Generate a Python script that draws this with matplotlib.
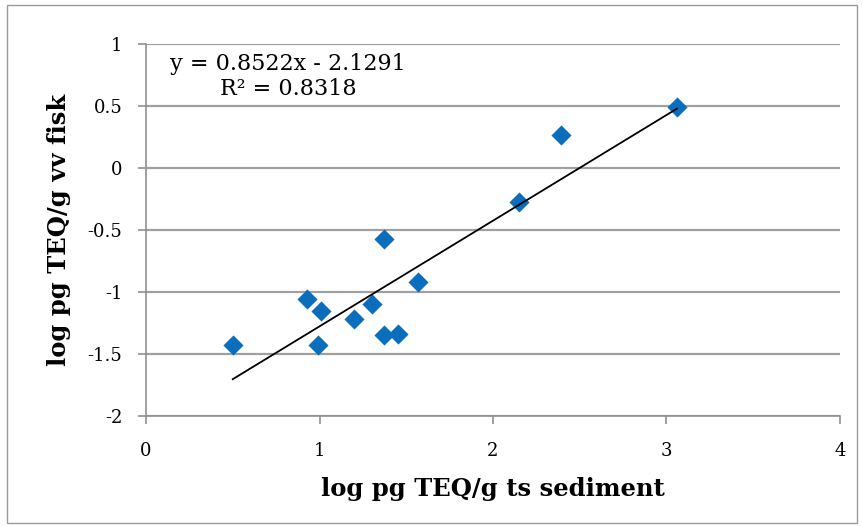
import matplotlib
matplotlib.use("Agg")
import matplotlib.pyplot as plt
import numpy as np
from matplotlib.patches import Rectangle

# log pg TEQ/g sediment vs fish
sediment = [0.50, 0.93, 1.01, 0.99, 1.20, 1.30, 1.37, 1.37, 1.45, 1.57, 2.15, 2.39, 3.06]
fisk = [-1.43, -1.06, -1.15, -1.43, -1.22, -1.10, -0.57, -1.35, -1.34, -0.92, -0.27, 0.27, 0.49]

slope = 0.8522
intercept = -2.1291
r2 = 0.8318

x_ticks = [0, 1, 2, 3, 4]
y_ticks = [-2, -1.5, -1, -0.5, 0, 0.5, 1]
y_ticklabels = ["-2", "-1.5", "-1", "-0.5", "0", "0.5", "1"]

plt.rcParams['font.family'] = ['DejaVu Serif']
fig = plt.figure(figsize=(8.63, 5.26), dpi=100)
fig.patches.append(Rectangle((0.008, 0.006), 0.985, 0.985, transform=fig.transFigure,
                             fill=False, edgecolor='#9a9a9a', linewidth=1))

ax = fig.add_axes([0.1692, 0.2091, 0.8041, 0.7072])
ax.set_xlim(0, 4)
ax.set_ylim(-2, 1)

for y in y_ticks:
    ax.axhline(y, color='#a0a0a0', linewidth=1.6, zorder=1)

ax.scatter(sediment, fisk, marker='D', s=105, color='#0a6ebd', linewidths=0, zorder=3)

xs = np.array([min(sediment), max(sediment)])
ax.plot(xs, slope * xs + intercept, color='black', linewidth=1.3, zorder=4)

for side in ['top', 'right']:
    ax.spines[side].set_visible(False)
for side in ['left', 'bottom']:
    ax.spines[side].set_color('#909090')
    ax.spines[side].set_linewidth(1.2)

ax.set_xticks(x_ticks)
ax.set_yticks(y_ticks)
ax.set_yticklabels(y_ticklabels)
ax.tick_params(axis='both', colors='#909090', labelcolor='black', labelsize=13,
               length=6, width=1.2)
ax.tick_params(axis='x', direction='out', pad=13)
ax.tick_params(axis='y', direction='out', pad=11)

ax.set_xlabel('log pg TEQ/g ts sediment', fontsize=17.5, fontweight='bold', labelpad=12)
ax.set_ylabel('log pg TEQ/g vv fisk', fontsize=17.5, fontweight='bold', labelpad=12)

ax.text(0.82, 0.74, 'y = %.4fx - %.4f\nR\u00b2 = %.4f' % (slope, -intercept, r2),
        fontsize=16, ha='center', va='center', linespacing=1.15,
        multialignment='center')

fig.savefig('out.png', dpi=100)
